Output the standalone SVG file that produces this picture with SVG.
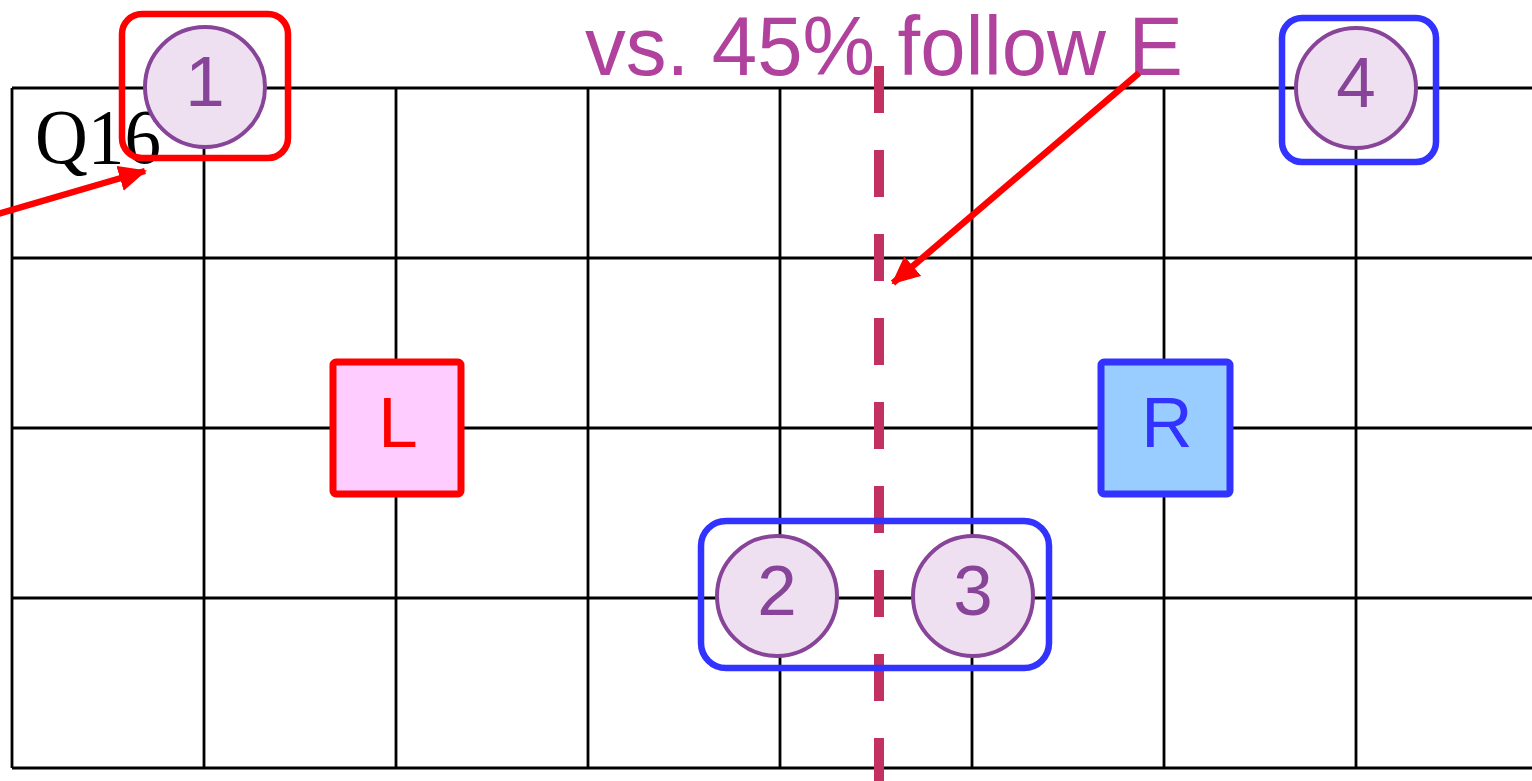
<svg xmlns="http://www.w3.org/2000/svg" width="1532" height="781" viewBox="0 0 1532 781">
  <style>
    .grid line { stroke: #000; stroke-width: 2.8; }
    .pt circle { fill: #eee0f0; stroke: #884499; stroke-width: 4; }
    .pt text { fill: #884499; font-family: "Liberation Sans", "DejaVu Sans", sans-serif; font-size: 71px; text-anchor: middle; }
    .grp-red { fill: none; stroke: #ff0000; stroke-width: 6.5; }
    .grp-blue { fill: none; stroke: #3333ff; stroke-width: 6.5; }
    .arrow { stroke: #ff0000; stroke-width: 6.5; fill: none; marker-end: url(#head); }
    .label { font-family: "Liberation Sans", "DejaVu Sans", sans-serif; font-size: 71px; text-anchor: middle; }
  </style>
  <defs>
    <marker id="head" markerUnits="userSpaceOnUse" markerWidth="30" markerHeight="26" refX="26" refY="13" orient="auto">
      <path d="M0,0 L28,13 L0,26 Z" fill="#ff0000"/>
    </marker>
  </defs>
  <rect width="1532" height="781" fill="#ffffff"/>

  <!-- base grid -->
  <g id="grid" class="grid">
    <line x1="12" y1="88" x2="1532" y2="88"/>
    <line x1="12" y1="258" x2="1532" y2="258"/>
    <line x1="12" y1="428" x2="1532" y2="428"/>
    <line x1="12" y1="598" x2="1532" y2="598"/>
    <line x1="12" y1="768" x2="1532" y2="768"/>
    <line x1="12" y1="88" x2="12" y2="768"/>
    <line x1="204" y1="88" x2="204" y2="768"/>
    <line x1="396" y1="88" x2="396" y2="768"/>
    <line x1="588" y1="88" x2="588" y2="768"/>
    <line x1="780" y1="88" x2="780" y2="768"/>
    <line x1="972" y1="88" x2="972" y2="768"/>
    <line x1="1164" y1="88" x2="1164" y2="768"/>
    <line x1="1356" y1="88" x2="1356" y2="768"/>
  </g>

  <!-- dashed split line -->
  <line id="split" x1="879" y1="66" x2="879" y2="781" stroke="#c33062" stroke-width="10" stroke-dasharray="47 37"/>

  <!-- labels -->
  <text id="q16" x="35" y="163" font-family="Liberation Serif, DejaVu Serif, serif" font-size="78" textLength="126" lengthAdjust="spacingAndGlyphs" fill="#000">Q16</text>
  <text id="title" x="585" y="75" font-family="Liberation Sans, DejaVu Sans, sans-serif" font-size="83" textLength="598" lengthAdjust="spacingAndGlyphs" fill="#b0429e">vs. 45% follow E</text>

  <!-- reference boxes -->
  <g id="node-L">
    <rect x="333" y="362" width="128" height="132" rx="3" fill="#ffccff" stroke="#ff0000" stroke-width="7"/>
    <text class="label" x="398" y="447" fill="#ff0000">L</text>
  </g>
  <g id="node-R">
    <rect x="1101" y="362" width="129" height="132" rx="3" fill="#99ccff" stroke="#3333ff" stroke-width="7"/>
    <text class="label" x="1167" y="447" fill="#3333ff">R</text>
  </g>

  <!-- numbered points -->
  <g id="node-1" class="pt">
    <circle cx="205" cy="87" r="60"/>
    <text x="205" y="106">1</text>
  </g>
  <g id="node-2" class="pt">
    <circle cx="777" cy="596" r="60"/>
    <text x="777" y="615">2</text>
  </g>
  <g id="node-3" class="pt">
    <circle cx="973" cy="596" r="60"/>
    <text x="973" y="615">3</text>
  </g>
  <g id="node-4" class="pt">
    <circle cx="1356" cy="88" r="60"/>
    <text x="1356" y="107">4</text>
  </g>

  <!-- grouping outlines -->
  <g id="group-1">
    <rect class="grp-red" x="122" y="14" width="166" height="144" rx="20"/>
  </g>
  <g id="group-4">
    <rect class="grp-blue" x="1282" y="18" width="154" height="144" rx="20"/>
  </g>
  <g id="group-23">
    <rect class="grp-blue" x="701" y="521" width="348" height="147" rx="25"/>
  </g>

  <!-- connectors -->
  <g id="connectors">
    <line class="arrow" x1="-2" y1="214" x2="145" y2="171"/>
    <line class="arrow" x1="1139" y1="73" x2="893" y2="283"/>
  </g>
</svg>
